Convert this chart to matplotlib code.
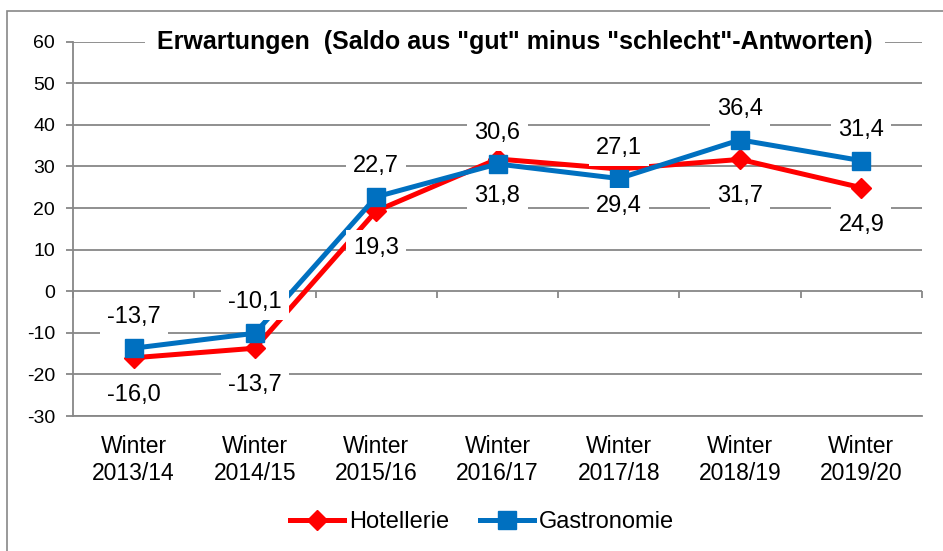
import matplotlib
matplotlib.use("Agg")
import matplotlib.pyplot as plt
import numpy as np
from matplotlib.patches import Rectangle
from matplotlib.lines import Line2D

plt.rcParams['font.family'] = ['Liberation Sans', 'DejaVu Sans']

categories = ["Winter\n2013/14", "Winter\n2014/15", "Winter\n2015/16", "Winter\n2016/17",
              "Winter\n2017/18", "Winter\n2018/19", "Winter\n2019/20"]
hotellerie = [-16.0, -13.7, 19.3, 31.8, 29.4, 31.7, 24.9]
gastronomie = [-13.7, -10.1, 22.7, 30.6, 27.1, 36.4, 31.4]
yticks = [-30, -20, -10, 0, 10, 20, 30, 40, 50, 60]
title = 'Erwartungen  (Saldo aus "gut" minus "schlecht"-Antworten)'

RED = "#FF0000"
BLUE = "#0070C0"
GRID = "#878787"

W, H = 943, 551
fig = plt.figure(figsize=(W / 100, H / 100), dpi=100)
ax = fig.add_axes([73 / W, 1 - 416 / H, 849 / W, (416 - 41.7) / H])

x = np.arange(len(categories))
ax.plot(x, hotellerie, color=RED, lw=3.6, marker="D", ms=10.5, zorder=3,
        solid_joinstyle="round")
ax.plot(x, gastronomie, color=BLUE, lw=3.6, marker="s", ms=12.5, zorder=4,
        solid_joinstyle="round")

box = dict(boxstyle="square,pad=0.3", fc="white", ec="none")
for xi, v in zip(x, gastronomie):
    ax.annotate(f"{v:.1f}".replace(".", ","), (xi, v), xytext=(0, 31),
                textcoords="offset pixels", ha="center", va="center",
                fontsize=17, bbox=box, zorder=6)
for xi, v in zip(x, hotellerie):
    ax.annotate(f"{v:.1f}".replace(".", ","), (xi, v), xytext=(0, -37),
                textcoords="offset pixels", ha="center", va="center",
                fontsize=17, bbox=box, zorder=6)

ax.set_xlim(-0.5, len(categories) - 0.5)
ax.set_ylim(-30, 60)
ax.set_yticks(yticks)
ax.set_yticklabels([str(t) for t in yticks], fontsize=14)
ax.set_xticks(x)
ax.set_xticklabels(categories, fontsize=16.5, linespacing=1.2)
ax.tick_params(axis="x", length=0, pad=14)
ax.tick_params(axis="y", length=5, color=GRID, width=1.3, pad=8)

ax.grid(axis="y", color=GRID, lw=1.3, zorder=0)
ax.set_axisbelow(True)
for s in ["top", "right"]:
    ax.spines[s].set_visible(False)
for s in ["left", "bottom"]:
    ax.spines[s].set_color(GRID)
    ax.spines[s].set_linewidth(1.3)

sec = ax.secondary_xaxis(0, transform=ax.transData)
sec.set_xticks(np.arange(-0.5, len(categories), 1.0))
sec.set_xticklabels([])
sec.tick_params(length=5, color=GRID, width=1.3, direction="out")
sec.spines["bottom"].set_visible(False)

ax.text((515 - 73) / 849, 60, title, transform=ax.get_yaxis_transform(),
        ha="center", va="center", fontsize=18, fontweight="bold",
        bbox=dict(boxstyle="square,pad=0.5", fc="white", ec="none"), zorder=7)

handles = [Line2D([], [], color=RED, lw=3.6, marker="D", ms=10.5),
           Line2D([], [], color=BLUE, lw=3.6, marker="s", ms=12.5)]
fig.legend(handles, ["Hotellerie", "Gastronomie"], loc="center",
           bbox_to_anchor=(482 / W, 1 - 522 / H), ncol=2, frameon=False,
           fontsize=17, handlelength=2.3, handletextpad=0.2, columnspacing=1.3)

fig.patches.append(Rectangle((7 / W, -0.1), 1.2, 1.1 - 11 / H,
                             transform=fig.transFigure, fill=False,
                             ec=GRID, lw=1.2))

fig.savefig("out.png", dpi=100)
